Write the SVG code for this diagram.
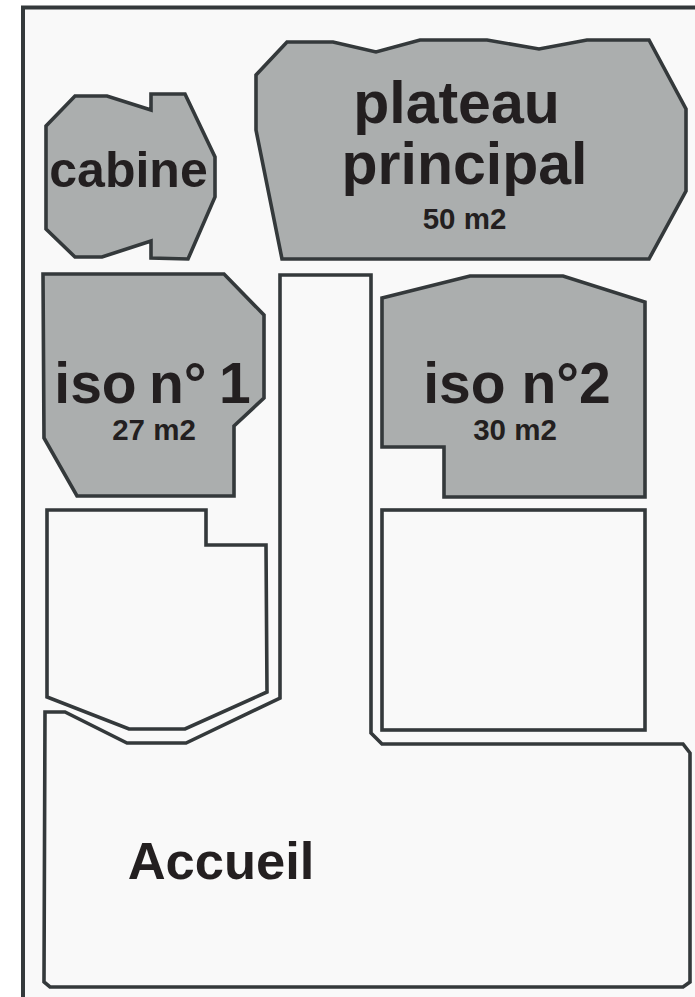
<svg xmlns="http://www.w3.org/2000/svg" width="695" height="997" viewBox="0 0 695 997">
<style>
.r{fill:#abaeae;stroke:#34393b;stroke-width:3.6;stroke-linejoin:miter}
.w{fill:#f9f9f9;stroke:#34393b;stroke-width:3.6;stroke-linejoin:miter}
text{font-family:"Liberation Sans",Arial,sans-serif;font-weight:bold;fill:#231f20;text-anchor:middle}
.s{font-size:29.5px}
.b{font-size:59px}
.m{font-size:57px}
</style>
<rect width="695" height="997" fill="#fff"/>
<rect x="23" y="7.500" width="672" height="989.500" fill="#f9f9f9"/>
<path id="frame" d="M695 7.500H23V997" fill="none" stroke="#34393b" stroke-width="4"/>
<g id="cabine"><path class="r" d="M75 96H107L151 110V94H185L215 157V197L188 259L151 258V241L102 257H75L46 229V126Z"/><text x="128.500" y="187" font-size="50">cabine</text></g>
<g id="plateau"><path class="r" d="M287 42H333L376 52L420 40H487L539 49L587 40H649L686 109V191L649 259H282L256 130V75Z"/><text x="456.500" y="123" class="b">plateau</text><text x="464.500" y="184" class="b">principal</text><text x="464.500" y="229" class="s">50 m2</text></g>
<g id="iso1"><path class="r" d="M43 274H224L264 315V398L234 426V496H77L44 438Z"/><text x="152.500" y="403" class="m" word-spacing="-3.500">iso n° 1</text><text x="154" y="440" class="s">27 m2</text></g>
<g id="iso2"><path class="r" d="M382 298L470 276H563L645 302V497H444V447H382Z"/><text x="517" y="403" class="m">iso n°2</text><text x="515" y="440" class="s">30 m2</text></g>
<g id="room1"><path class="w" d="M47 510H206V545H266L267 692L185 729H129L47 697Z"/></g>
<g id="room2"><rect class="w" x="382" y="510" width="263" height="220"/></g>
<g id="accueil"><path class="w" d="M280 275H371V733L382 744H683L690 753V982L683 987H50L44 982L45 712H65L127 743H186L280 698Z"/><text x="221" y="879" font-size="52.500">Accueil</text></g>
</svg>
